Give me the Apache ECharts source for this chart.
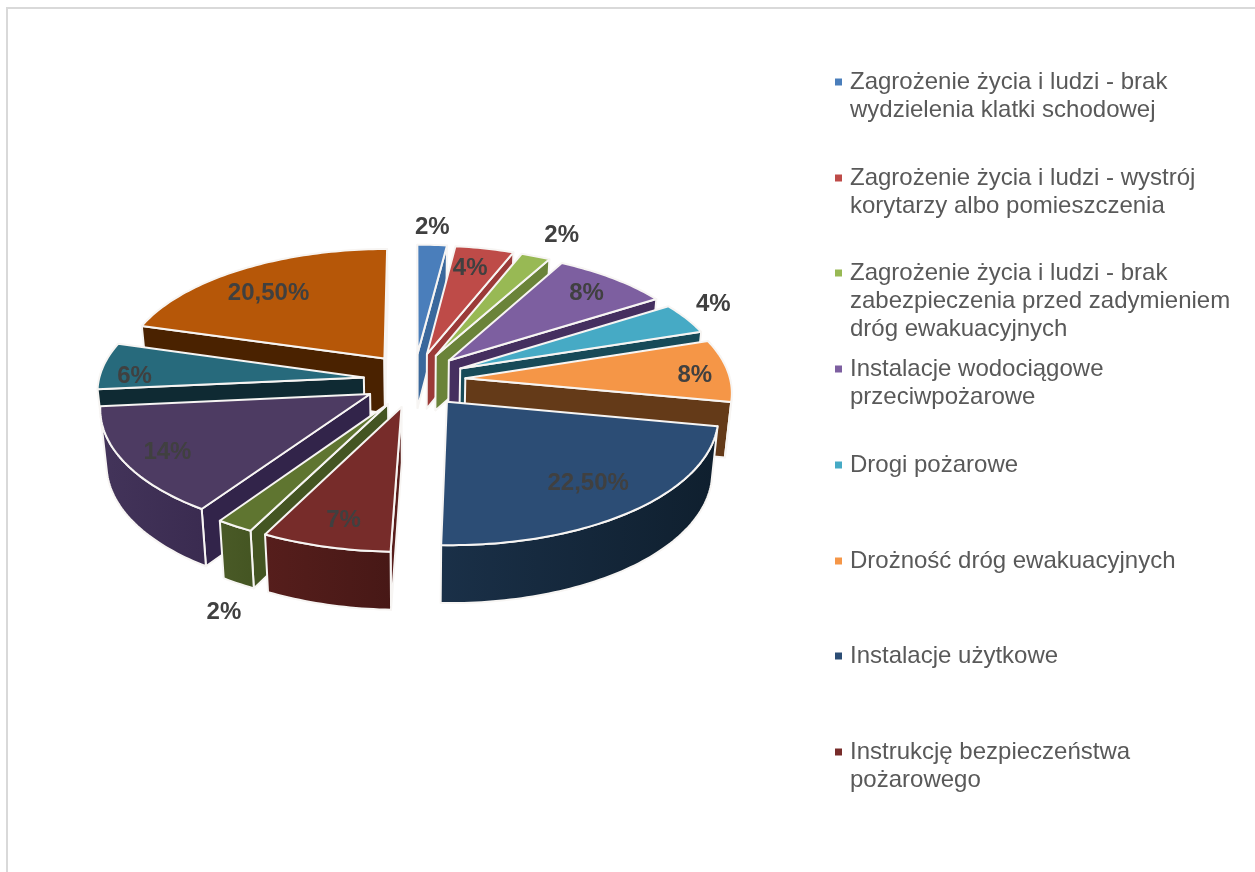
<!DOCTYPE html>
<html><head><meta charset="utf-8">
<style>html,body{margin:0;padding:0;background:#fff}#c{width:1255px;height:872px}</style>
<script src="https://cdn.jsdelivr.net/npm/echarts@6/dist/echarts.min.js"></script>
</head><body><div id="c"></div>
<script>
// ---- data ----
const legendNames = [
  'Zagrożenie życia i ludzi - brak\nwydzielenia klatki schodowej',
  'Zagrożenie życia i ludzi - wystrój\nkorytarzy albo pomieszczenia',
  'Zagrożenie życia i ludzi - brak\nzabezpieczenia przed zadymieniem\ndróg ewakuacyjnych',
  'Instalacje wodociągowe\nprzeciwpożarowe',
  'Drogi pożarowe',
  'Drożność dróg ewakuacyjnych',
  'Instalacje użytkowe',
  'Instrukcję bezpieczeństwa\npożarowego'
];
const sliceValues = [2, 4, 2, 8, 4, 8, 22.5, 7, 2, 14, 6, 20.5];
// ---- styles ----
const topColors = ['#4a7ebb','#be4b48','#98b954','#7d5fa0','#46aac5','#f59647','#2c4d75','#772c2a','#5f7530','#4d3b62','#276a7c','#b65708'];
const edgeColors = ['#3a689c','#9b3a38','#6a8339','#452f5f','#174a58','#643a18','#1a3048','#571d1b','#445522','#32244a','#0f2a33','#4a2200'];
const arcColors = [['#3a689c','#32598a'],['#9b3a38','#8a3230'],['#6a8339','#5e7532'],['#452f5f','#3c2954'],['#174a58','#123e4b'],['#6b3f1a','#5e3515'],['#1a3048','#0f1f2e'],['#561e1c','#471816'],['#4a5a27','#445522'],['#43345a','#3a2b50'],['#0f2a33','#0c2229'],['#4a2200','#3e1c00']];
const labelRadius = [1.2,.81,1.26,.82,1.16,.85,.75,.81,1.46,.81,.84,.75];
const labelTurn = [-.4,-1.5,.2,-.8,-4.4,.8,-.35,-1.35,-10.9,-.9,-3.7,-.7];
// ---- pie geometry ----
const CX=414.5, CY=380, R=265, EXPLODE=58, EXPLODE_X=51, TILT=.47, PERSP=.1, DEPTH=55, DEPTH_PERSP=.4, SHRINK=.02;
const total = sliceValues.reduce((a,b)=>a+b,0);
let cum=0;
const spans = sliceValues.map(v=>{const a0=cum/total*2*Math.PI; cum+=v; return [a0,cum/total*2*Math.PI];});
function project(x,z,d){
  const s=1/(1-PERSP*z/R);
  return [CX+x*s*(1-SHRINK*d), CY+z*TILT*s+DEPTH*d*(1+DEPTH_PERSP*(s-1))];
}
function sliceGeom(i){
  const [a0,a1]=spans[i], m=(a0+a1)/2;
  const ax=EXPLODE_X*Math.sin(m), az=-EXPLODE*Math.cos(m);
  const rim=(a,d)=>project(ax+R*Math.sin(a),az-R*Math.cos(a),d);
  const apex=d=>project(ax,az,d);
  return {a0,a1,m,ax,az,rim,apex};
}
function area(p){let s=0;for(let k=0;k<p.length;k++){const q=p[(k+1)%p.length];s+=p[k][0]*q[1]-q[0]*p[k][1];}return s/2;}
const EDGE={stroke:'#f7f5f3',lineWidth:2,lineJoin:'round'};
function renderSlice(i){
  const g=sliceGeom(i), kids=[];
  const steps=Math.max(4,Math.ceil((g.a1-g.a0)/0.02));
  const angles=[];for(let k=0;k<=steps;k++)angles.push(g.a0+(g.a1-g.a0)*k/steps);
  // radial walls, drawn only when they face the viewer
  [[g.a0,1],[g.a1,-1]].forEach(([a,dir])=>{
    const quad=[g.apex(0),g.rim(a,0),g.rim(a,1),g.apex(1)];
    if(area(quad)*dir<0) kids.push({type:'polygon',shape:{points:quad},style:Object.assign({fill:edgeColors[i]},EDGE)});
  });
  // curved outer wall: the run of front-facing segments
  const vis=[];
  for(let k=0;k<steps;k++){
    const seg=[g.rim(angles[k],0),g.rim(angles[k+1],0),g.rim(angles[k+1],1),g.rim(angles[k],1)];
    if(area(seg)<0) { if(!vis.length) vis.push(angles[k]); vis.push(angles[k+1]); }
  }
  if(vis.length){
    const pts=vis.map(a=>g.rim(a,0)).concat(vis.slice().reverse().map(a=>g.rim(a,1)));
    kids.push({type:'polygon',shape:{points:pts},style:Object.assign({
      fill:new echarts.graphic.LinearGradient(0,0,1,0,[{offset:0,color:arcColors[i][0]},{offset:1,color:arcColors[i][1]}])},EDGE)});
  }
  // top face
  const top=[g.apex(0)].concat(angles.map(a=>g.rim(a,0)));
  kids.push({type:'polygon',shape:{points:top},style:Object.assign({fill:topColors[i]},EDGE)});
  return {type:'group',children:kids};
}
function labelText(v){return Number.isInteger(v)?v+'%':v.toFixed(2).replace('.',',')+'%';}
function renderLabel(i){
  const g=sliceGeom(i), a=g.m+labelTurn[i]*Math.PI/180, r=labelRadius[i]*R;
  const ax=EXPLODE*Math.sin(g.m);
  const p=project(ax+r*Math.sin(a),g.az-r*Math.cos(a),0);
  return {type:'text',silent:true,style:{text:labelText(sliceValues[i]),x:p[0]-1,y:p[1]+2,fill:'#404040',
    font:'bold 24px "Liberation Sans", Arial, sans-serif',align:'center',verticalAlign:'middle'}};
}
const depthRank=sliceValues.map((v,i)=>-Math.cos(sliceGeom(i).m));
const sorted=depthRank.slice().sort((a,b)=>a-b);
const seriesName=i=>legendNames[i]||('Pozycja '+(i+1));
const series=sliceValues.map((v,i)=>({
  type:'custom',name:seriesName(i),coordinateSystem:'none',silent:true,z:2+sorted.indexOf(depthRank[i]),
  itemStyle:{color:topColors[i]},data:[v],renderItem:()=>renderSlice(i)
}));
series.push({type:'custom',name:'etykiety',coordinateSystem:'none',silent:true,z:40,
  data:sliceValues.map(v=>[v]),renderItem:(p)=>renderLabel(p.dataIndex)});
// each legend row starts on a fixed pitch; blank lead lines keep its marker on the first text line
const LH=28;
const legends=legendNames.map((n,i)=>{
  const lines=n.split('\n').length, blanks=lines-1;
  return {data:[n],left:835,top:Math.round(82+95.7*i)-(lines+blanks)*LH/2,padding:0,orient:'vertical',
    itemWidth:7,itemHeight:7,itemGap:0,icon:'rect',selectedMode:false,
    formatter:s=>'\n'.repeat(blanks)+s,
    textStyle:{color:'#595959',fontSize:24,lineHeight:LH,fontFamily:'"Liberation Sans", Arial, sans-serif',padding:[0,0,0,3]}};
});
const chart=echarts.init(document.getElementById('c'),null,{renderer:'canvas'});
chart.setOption({
  animation:false,backgroundColor:'#fff',
  graphic:{elements:[
    {type:'line',silent:true,shape:{x1:7,y1:8,x2:7,y2:872},style:{stroke:'#d9d9d9',lineWidth:2}},
    {type:'line',silent:true,shape:{x1:6,y1:8,x2:1255,y2:8},style:{stroke:'#d9d9d9',lineWidth:2}}
  ]},
  legend:legends,series:series
});
</script></body></html>
